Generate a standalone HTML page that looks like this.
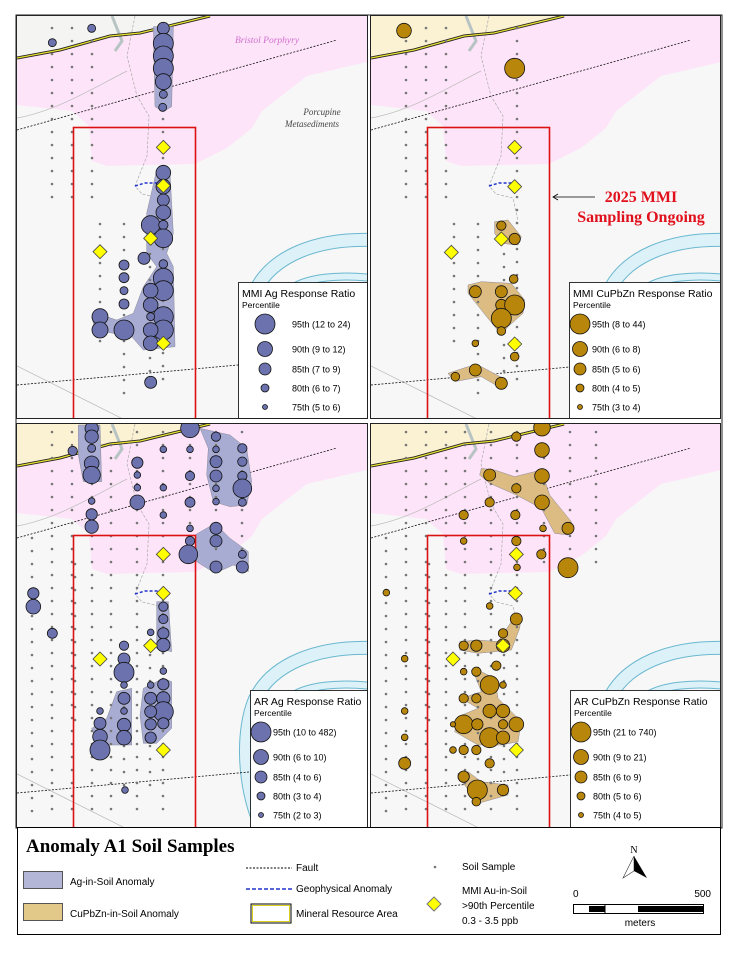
<!DOCTYPE html>
<html><head><meta charset="utf-8"><style>
html,body{margin:0;padding:0;background:#fff;}
svg{display:block;font-family:"Liberation Sans","DejaVu Sans",sans-serif;}
</style></head><body>
<svg id="s" width="738" height="954" viewBox="0 0 738 954" xmlns="http://www.w3.org/2000/svg">
<rect width="738" height="954" fill="#fff"/>
<defs>
<clipPath id="c0"><rect x="17" y="16" width="350" height="402"/></clipPath>
<clipPath id="c1"><rect x="371" y="16" width="349" height="402"/></clipPath>
<clipPath id="c2"><rect x="17" y="424" width="350" height="403"/></clipPath>
<clipPath id="c3"><rect x="371" y="424" width="349" height="403"/></clipPath>
</defs>
<g id="maps"></g>
<!-- bottom legend -->
<rect x="17.5" y="827.5" width="703" height="107" fill="#fff" stroke="#000" stroke-width="1"/>
<text x="26" y="852" font-family="Liberation Serif,serif" font-weight="bold" font-size="19">Anomaly A1 Soil Samples</text>
<rect x="23.5" y="871.5" width="39" height="17" fill="#b3b6d6" stroke="#555"/>
<text x="70" y="885" font-size="10">Ag-in-Soil Anomaly</text>
<rect x="23.5" y="903.5" width="39" height="17" fill="#e2c98a" stroke="#555"/>
<text x="70" y="917" font-size="10">CuPbZn-in-Soil Anomaly</text>
<line x1="246" y1="868" x2="292" y2="868" stroke="#000" stroke-dasharray="2,1.5"/>
<text x="296" y="871" font-size="10">Fault</text>
<line x1="246" y1="889" x2="292" y2="889" stroke="#2233cc" stroke-width="1.5" stroke-dasharray="4,2"/>
<text x="296" y="892" font-size="10">Geophysical Anomaly</text>
<rect x="251" y="904" width="40" height="19" fill="#fff" stroke="#000" stroke-width="1"/>
<rect x="252.5" y="905.5" width="37" height="16" fill="none" stroke="#d8d020" stroke-width="1"/>
<text x="296" y="917" font-size="10">Mineral Resource Area</text>
<circle cx="435" cy="867" r="1.3" fill="#777"/>
<text x="462" y="870" font-size="10">Soil Sample</text>
<polygon points="434,897 441,904 434,911 427,904" fill="#ffff00" stroke="#777"/>
<text x="462" y="894" font-size="10">MMI Au-in-Soil</text>
<text x="462" y="909" font-size="10">&gt;90th Percentile</text>
<text x="462" y="924" font-size="10">0.3 - 3.5 ppb</text>
<text x="634" y="853" font-size="10" text-anchor="middle" font-family="Liberation Serif,serif">N</text>
<polygon points="634,856 623,878 634,871" fill="#fff" stroke="#333" stroke-width="0.6"/>
<polygon points="634,856 647,878 634,871" fill="#000"/>
<text x="573" y="897" font-size="10">0</text>
<text x="711" y="897" font-size="10" text-anchor="end">500</text>
<rect x="573.5" y="904.5" width="130" height="9" fill="#fff" stroke="#000"/>
<rect x="589" y="906" width="16" height="6" fill="#000"/>
<rect x="638" y="906" width="65" height="6" fill="#000"/>
<line x1="605" y1="904" x2="605" y2="913" stroke="#000"/>
<text x="640" y="926" font-size="10" text-anchor="middle">meters</text>
<!-- annotation -->
<line x1="553" y1="197" x2="595" y2="197" stroke="#000" stroke-width="0.8"/>
<polyline points="558,194 553,197 558,200" fill="none" stroke="#000" stroke-width="0.8"/>
<text x="641" y="202" font-family="Liberation Serif,serif" font-weight="bold" font-size="16" fill="#e0101c" text-anchor="middle">2025 MMI</text>
<text x="641" y="222" font-family="Liberation Serif,serif" font-weight="bold" font-size="16" fill="#e0101c" text-anchor="middle">Sampling Ongoing</text>
</svg>
<script>
var NS="http://www.w3.org/2000/svg";
var G=document.getElementById("maps");
function el(p,t,a,txt){var e=document.createElementNS(NS,t);for(var k in a)e.setAttribute(k,a[k]);if(txt!=null)e.textContent=txt;p.appendChild(e);return e;}
function pts(a,ox,oy){return a.map(function(p){return (p[0]+ox)+","+(p[1]+oy)}).join(" ");}
var pinkP=[[0,42],[43,34],[93,20],[123,17],[193,0],[350,0],[350,46],[290,60],[245,95],[235,112],[210,132],[178,148],[90,150],[75,145],[72,110],[55,95],[0,89]];
var beigeP=[[0,0],[193,0],[123,17],[93,20],[43,34],[0,42]];
var resL=[[0,42],[43,34],[93,20],[123,17],[193,0]];
var panels=[
 {ox:17,oy:16,c:"c0",type:"ag",top:true},
 {ox:371,oy:16,c:"c1",type:"cu",top:true},
 {ox:17,oy:424,c:"c2",type:"ag",top:false},
 {ox:371,oy:424,c:"c3",type:"cu",top:false}];
function fromZ(list,dx,dy){return list.map(function(a){return [a[0]/3+dx,a[1]/3+dy,a[2]/3];});}
var tlC=fromZ([[490,85,18],[490,130,30],[490,168,30],[490,205,30],[490,245,24],[490,283,12],[488,322,12],[157,128,12],[275,85,12],
[490,518,22],[490,560,22],[490,600,18],[490,637,22],[452,675,28],[490,675,14],[490,715,28],[432,775,18],[490,792,13],[490,835,30],[490,872,30],[452,872,22],[452,915,22],[490,950,30],[490,990,30],[452,990,22],[452,1030,22],[452,950,12],[372,795,15],[372,833,15],[372,872,12],[372,912,15],[372,990,30],[300,950,24],[300,990,24],[452,1147,18]],-17,-16);
var tlD=fromZ([[490,442],[490,557],[452,715],[300,755],[490,1030]],-17,-16);
var trC=fromZ([[108,92,22],[440,205,30],[400,677,14],[440,717,17],[437,837,13],[322,875,18],[400,875,18],[400,915,17],[440,915,30],[400,955,30],[400,993,13],[322,1030,10],[440,1070,13],[322,1110,18],[262,1130,13],[400,1150,18]],-3,-16);
var trD=fromZ([[440,442],[440,560],[400,717],[250,757],[440,1032]],-3,-16);
var blC=fromZ([[275,40,20],[275,65,20],[218,108,14],[275,100,12],[275,145,22],[275,180,26],[412,143,17],[412,180,10],[412,218,10],[412,262,22],[490,103,10],[490,218,10],[490,300,10],[570,40,28],[570,103,10],[570,183,14],[570,262,15],[570,340,10],[570,378,14],[565,418,28],[648,65,14],[648,103,10],[648,140,18],[648,183,18],[648,220,10],[648,260,10],[648,340,18],[648,378,18],[648,456,18],[727,100,14],[727,140,14],[727,183,14],[727,220,28],[727,262,12],[727,418,12],[727,456,18],[275,258,10],[275,298,17],[275,335,20],[100,535,17],[100,575,22],[157,655,15],[490,575,14],[490,612,14],[490,655,17],[490,690,20],[452,652,10],[372,692,14],[372,732,18],[372,772,30],[372,810,10],[372,850,18],[372,888,10],[372,930,20],[372,968,22],[300,888,10],[300,925,18],[300,965,22],[300,1005,30],[490,768,10],[490,808,17],[490,850,20],[490,890,30],[490,925,17],[452,810,10],[452,850,18],[452,890,18],[452,928,17],[452,968,17],[375,1125,10]],-17,-9);
var blD=fromZ([[490,418],[490,535],[452,692],[300,732],[490,1005]],-17,-9);
var brC=fromZ([[522,38,25],[445,65,14],[522,105,22],[365,180,18],[522,183,22],[445,220,14],[522,262,22],[365,262,14],[287,300,14],[442,300,14],[525,340,10],[600,340,18],[287,378,10],[445,378,14],[520,418,14],[447,457,10],[600,458,30],[55,533,10],[365,573,10],[445,612,18],[405,655,14],[287,692,14],[325,692,17],[405,692,20],[110,731,10],[385,752,14],[287,770,10],[325,770,14],[365,810,28],[405,810,10],[287,850,14],[325,850,14],[365,888,20],[405,888,20],[110,888,10],[287,928,28],[328,928,17],[405,928,14],[445,928,22],[255,928,8],[365,968,30],[405,968,20],[110,967,10],[255,1005,10],[287,1005,14],[325,1005,14],[365,1045,14],[110,1045,18],[287,1085,17],[328,1125,30],[405,1125,17],[325,1160,13]],-3,-9);
var brD=fromZ([[445,418],[442,535],[405,692],[255,732],[445,1005]],-3,-9);
var tlA=[[[460,80],[520,80],[515,320],[490,335],[465,320]],[[470,510],[510,520],[520,700],[500,760],[520,800],[525,1040],[430,1050],[395,1010],[340,1000],[285,990],[275,950],[320,950],[350,960],[400,940],[430,860],[470,800],[440,760],[440,640]]];
var trA=[[[380,665],[420,660],[460,710],[450,735],[400,730],[380,700]],[[300,855],[340,845],[430,850],[470,900],[465,940],[420,980],[400,1005],[300,880]],[[240,1120],[300,1100],[340,1100],[415,1140],[400,1165],[340,1130],[260,1145]]];
var blA=[[[235,30],[300,30],[305,200],[250,200],[235,120]],[[600,40],[690,60],[740,100],[755,200],[740,270],[690,275],[640,260],[620,180],[625,100]],[[585,360],[645,325],[690,370],[745,410],[745,470],[700,450],[645,475],[590,440]],[[470,560],[505,560],[515,710],[470,700]],[[430,820],[490,790],[515,800],[515,940],[470,985],[430,985],[420,900]],[[350,830],[395,820],[395,990],[330,990],[300,1000],[275,940],[320,910]]];
var brA=[[[340,160],[380,165],[440,185],[520,165],[545,240],[610,320],[600,360],[560,355],[520,280],[445,240],[365,205],[335,180]],[[275,680],[330,675],[390,680],[430,620],[460,600],[455,640],[430,705],[330,715],[275,705]],[[320,760],[380,790],[390,850],[420,880],[460,920],[450,980],[400,990],[330,990],[260,950],[270,905],[330,880],[280,850],[340,830],[320,780]],[[270,1075],[300,1070],[340,1100],[420,1110],[420,1140],[330,1165],[290,1110],[270,1090]]];
function toL(poly,dx,dy){return poly.map(function(p){return [p[0]/3+dx,p[1]/3+dy];});}
function dots(top){
  var d=[];
  if(top){
    [35,55,75].forEach(function(x){for(var y=12;y<=190;y+=13)d.push([x,y]);});
    for(var y=12;y<=375;y+=13)d.push([146,y]);
    for(var y=208;y<=330;y+=13)d.push([83,y]);
    for(var y=208;y<=380;y+=13)d.push([107,y]);
    for(var y=238;y<=380;y+=13)d.push([133,y]);
  } else {
    var cols=[15,35,55,75,94,120,146,173,199,225];
    cols.forEach(function(x,i){
      var y0=(i==0)?114:8, y1=(x>=173)?145:392;
      for(var y=y0;y<=y1;y+=13)d.push([x,y]);
    });
    [107,133].forEach(function(x){for(var y=218;y<=370;y+=13)d.push([x,y]);});
    for(var y=140;y<=300;y+=13)d.push([58,y]);
  }
  return d;
}
function diamond(g,x,y){el(g,"polygon",{points:[x+","+(y-7),(x+7)+","+y,x+","+(y+7),(x-7)+","+y].join(" "),fill:"#ffff00",stroke:"#444","stroke-width":"0.8"});}
panels.forEach(function(P,idx){
  var ox=P.ox,oy=P.oy;
  var g=el(G,"g",{"clip-path":"url(#"+P.c+")"});
  el(g,"rect",{x:ox,y:oy,width:352,height:404,fill:"#f7f7f7"});
  el(g,"polygon",{points:pts(beigeP,ox,oy),fill:idx==0?"#f4f4f2":"#fbf1d3"});
  el(g,"polygon",{points:pts(pinkP,ox,oy),fill:"#fde4f8"});
  var rv="M"+(ox+355)+","+(oy+224)+" C"+(ox+300)+","+(oy+222)+" "+(ox+255)+","+(oy+240)+" "+(ox+238)+","+(oy+275)+" C"+(ox+225)+","+(oy+305)+" "+(ox+225)+","+(oy+360)+" "+(ox+245)+","+(oy+405);
  el(g,"path",{d:rv,fill:"none",stroke:"#6ab8d0","stroke-width":"14"});
  el(g,"path",{d:rv,fill:"none",stroke:"#dcf1f8","stroke-width":"12"});
  var rv2="M"+(ox+355)+","+(oy+262)+" C"+(ox+320)+","+(oy+258)+" "+(ox+290)+","+(oy+262)+" "+(ox+275)+","+(oy+272);
  el(g,"path",{d:rv2,fill:"none",stroke:"#6ab8d0","stroke-width":"8"});
  el(g,"path",{d:rv2,fill:"none",stroke:"#dcf1f8","stroke-width":"6"});
  el(g,"path",{d:"M"+(ox+118)+","+(oy+0)+" L"+(ox+110)+","+(oy+40)+" L"+(ox+120)+","+(oy+80)+" L"+(ox+132)+","+(oy+100)+" L"+(ox+130)+","+(oy+140)+" L"+(ox+118)+","+(oy+170)+" L"+(ox+125)+","+(oy+178)+" L"+(ox+142)+","+(oy+182)+" L"+(ox+147)+","+(oy+205),fill:"none",stroke:"#aaa","stroke-width":"0.7","stroke-dasharray":"3,1.5"});
  el(g,"path",{d:"M"+(ox+0)+","+(oy+102)+" C"+(ox+40)+","+(oy+95)+" "+(ox+80)+","+(oy+70)+" "+(ox+110)+","+(oy+55),fill:"none",stroke:"#bbb","stroke-width":"0.7"});
  el(g,"path",{d:"M"+(ox+0)+","+(oy+350)+" C"+(ox+40)+","+(oy+370)+" "+(ox+70)+","+(oy+385)+" "+(ox+110)+","+(oy+405),fill:"none",stroke:"#bbb","stroke-width":"0.7"});
  el(g,"path",{d:"M"+(ox+95)+","+(oy+0)+" L"+(ox+105)+","+(oy+25)+" L"+(ox+98)+","+(oy+35),fill:"none",stroke:"#b8c4c4","stroke-width":"3"});
  el(g,"polyline",{points:pts(resL,ox,oy),fill:"none",stroke:"#222","stroke-width":"3"});
  el(g,"polyline",{points:pts(resL,ox,oy),fill:"none",stroke:"#e8e030","stroke-width":"1.3"});
  el(g,"line",{x1:ox,y1:oy+114,x2:ox+320,y2:oy+24,stroke:"#111","stroke-width":"0.8","stroke-dasharray":"2,1.5"});
  el(g,"line",{x1:ox,y1:oy+369,x2:ox+232,y2:oy+348,stroke:"#111","stroke-width":"0.8","stroke-dasharray":"2,1.5"});
  if(idx==0){
    el(g,"text",{x:ox+250,y:oy+27,"font-family":"Liberation Serif,serif","font-style":"italic","font-size":"9.5",fill:"#d070d0","text-anchor":"middle"},"Bristol Porphyry");
    el(g,"text",{x:ox+305,y:oy+99,"font-family":"Liberation Serif,serif","font-style":"italic","font-size":"9",fill:"#444","text-anchor":"middle"},"Porcupine");
    el(g,"text",{x:ox+295,y:oy+111,"font-family":"Liberation Serif,serif","font-style":"italic","font-size":"9",fill:"#444","text-anchor":"middle"},"Metasediments");
  }
  var A, C, D, dx, dy;
  if(idx==0){A=tlA;C=tlC;D=tlD;dx=-17;dy=-16;}
  if(idx==1){A=trA;C=trC;D=trD;dx=-3;dy=-16;}
  if(idx==2){A=blA;C=blC;D=blD;dx=-17;dy=-9;}
  if(idx==3){A=brA;C=brC;D=brD;dx=-3;dy=-9;}
  var af=P.type=="ag"?"#a9acd2":"#dcbc82";
  A.forEach(function(poly){el(g,"polygon",{points:pts(toL(poly,dx,dy),ox,oy),fill:af,stroke:"#8a8a9a","stroke-width":"0.5","stroke-linejoin":"round"});});
  dots(P.top).forEach(function(p){el(g,"circle",{cx:ox+p[0],cy:oy+p[1],r:1.3,fill:"#777"});});
  el(g,"polyline",{points:pts([[118,170],[128,167],[146,167]],ox,oy),fill:"none",stroke:"#2233cc","stroke-width":"1.5","stroke-dasharray":"3,2"});
  el(g,"rect",{x:ox+56.5,y:oy+111.5,width:122,height:300,fill:"none",stroke:"#dd1111","stroke-width":"1.6"});
  var cf=P.type=="ag"?"#6b72ad":"#b8860b";
  C.forEach(function(c){el(g,"circle",{cx:ox+c[0],cy:oy+c[1],r:c[2],fill:cf,stroke:"#111","stroke-width":"0.8"});});
  D.forEach(function(d){diamond(g,ox+d[0],oy+d[1]);});
});
function legend(x,y,w,h,title,cx,lx,items,col,rows){
  var g=el(G,"g",{});
  el(g,"rect",{x:x+0.5,y:y+0.5,width:w,height:h,fill:"#fff",stroke:"#000","stroke-width":"0.8"});
  el(g,"text",{x:x+4,y:y+15,"font-size":"10.5"},title);
  el(g,"text",{x:x+4,y:y+26,"font-size":"8.5"},"Percentile");
  var rs=[10,7.5,6,4,2.5];
  items.forEach(function(t,i){
    el(g,"circle",{cx:cx,cy:rows[i],r:rs[i],fill:col,stroke:"#111","stroke-width":"0.8"});
    el(g,"text",{x:lx,y:rows[i]+3.5,"font-size":"9"},t);
  });
}
legend(238,282,129,136,"MMI Ag Response Ratio",265,292,["95th (12 to 24)","90th (9 to 12)","85th (7 to 9)","80th (6 to 7)","75th (5 to 6)"],"#6b72ad",[324,349,369,388,407]);
legend(569,282,151,136,"MMI CuPbZn Response Ratio",580,592,["95th (8 to 44)","90th (6 to 8)","85th (5 to 6)","80th (4 to 5)","75th (3 to 4)"],"#b8860b",[324,349,369,388,407]);
legend(250,690,117,137,"AR Ag Response Ratio",261,273,["95th (10 to 482)","90th (6 to 10)","85th (4 to 6)","80th (3 to 4)","75th (2 to 3)"],"#6b72ad",[732,757,777,796,815]);
legend(570,690,150,137,"AR CuPbZn Response Ratio",581,593,["95th (21 to 740)","90th (9 to 21)","85th (6 to 9)","80th (5 to 6)","75th (4 to 5)"],"#b8860b",[732,757,777,796,815]);
[[17,16,350,402],[371,16,349,402],[17,424,350,403],[371,424,349,403]].forEach(function(r){el(G,"rect",{x:r[0]-0.5,y:r[1]-0.5,width:r[2]+1,height:r[3]+1,fill:"none",stroke:"#222","stroke-width":"1"});});
el(G,"rect",{x:16,y:15,width:706,height:813,fill:"none",stroke:"#222","stroke-width":"1"});
</script>
</body></html>
